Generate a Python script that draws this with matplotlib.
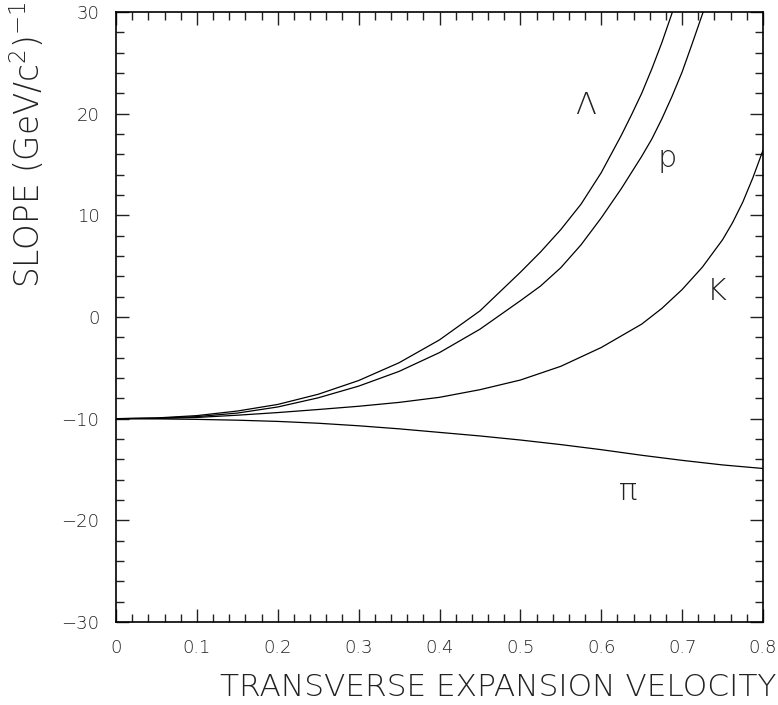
import numpy as np
from matplotlib import pyplot as plt
from matplotlib.ticker import MultipleLocator

# slope vs transverse expansion velocity
x_lam = [0.0, 0.05, 0.1, 0.15, 0.2, 0.25, 0.3, 0.35, 0.4, 0.45, 0.5, 0.525, 0.55, 0.575, 0.6, 0.625,
         0.6375, 0.65, 0.6625, 0.675, 0.688]
y_lam = [-10.0, -9.93, -9.7, -9.25, -8.6, -7.6, -6.25, -4.5, -2.25, 0.6, 4.4, 6.4, 8.6, 11.1, 14.2, 17.9,
         19.9, 22.0, 24.4, 27.0, 30.0]

x_p = [0.0, 0.05, 0.1, 0.15, 0.2, 0.25, 0.3, 0.35, 0.4, 0.45, 0.5, 0.525, 0.55, 0.575, 0.6, 0.625, 0.65,
       0.6625, 0.675, 0.6875, 0.7, 0.7125, 0.726]
y_p = [-10.0, -9.95, -9.8, -9.45, -8.85, -7.95, -6.8, -5.35, -3.5, -1.2, 1.6, 3.05, 4.85, 7.1, 9.75, 12.65,
       15.8, 17.5, 19.5, 21.7, 24.1, 26.9, 30.0]

x_k = [0.0, 0.05, 0.1, 0.15, 0.2, 0.25, 0.3, 0.35, 0.4, 0.45, 0.5, 0.55, 0.6, 0.65, 0.675, 0.7, 0.725,
       0.75, 0.7625, 0.775, 0.7875, 0.8]
y_k = [-10.0, -9.98, -9.88, -9.66, -9.4, -9.1, -8.78, -8.4, -7.9, -7.15, -6.2, -4.85, -3.0, -0.7, 0.85, 2.7,
       4.9, 7.6, 9.3, 11.3, 13.7, 16.4]

x_pi = [0.0, 0.05, 0.1, 0.15, 0.2, 0.25, 0.3, 0.35, 0.4, 0.45, 0.5, 0.55, 0.6, 0.65, 0.7, 0.75, 0.8]
y_pi = [-10.0, -10.02, -10.07, -10.15, -10.27, -10.45, -10.7, -11.0, -11.35, -11.7, -12.1, -12.55, -13.05,
        -13.6, -14.1, -14.55, -14.9]

labels = ["\u039b", "p", "K", "\u03c0"]
label_pos = [(0.58, 20.8), (0.681, 15.6), (0.743, 2.5), (0.633, -17.2)]

plt.rcParams.update({
    "font.family": "DejaVu Sans",
    "font.weight": "light",
    "mathtext.default": "regular",
    "text.color": "#222222",
    "xtick.color": "#222222",
    "ytick.color": "#222222",
})

fig = plt.figure(figsize=(7.78, 7.05), dpi=100)
ax = fig.add_axes([116 / 778, 1 - 622 / 705, 647 / 778, 610 / 705])

for xs, ys in [(x_lam, y_lam), (x_p, y_p), (x_k, y_k), (x_pi, y_pi)]:
    ax.plot(xs, ys, color="black", lw=0.9)

for lab, (lx, ly) in zip(labels, label_pos):
    ax.text(lx, ly, lab, fontsize=22, ha="center", va="center", fontweight="light")

ax.set_xlim(0, 0.8)
ax.set_ylim(-30, 30)
ax.xaxis.set_major_locator(MultipleLocator(0.1))
ax.xaxis.set_minor_locator(MultipleLocator(0.02))
ax.yaxis.set_major_locator(MultipleLocator(10))
ax.yaxis.set_minor_locator(MultipleLocator(2))
ax.xaxis.set_major_formatter(lambda v, pos: "0" if abs(v) < 1e-9 else f"{v:.1f}")

ax.tick_params(which="both", direction="in", top=True, right=True, labelsize=13, width=1.0)
ax.tick_params(which="major", length=9.4, pad=12)
ax.tick_params(which="minor", length=5.8)
for s in ax.spines.values():
    s.set_linewidth(1.2)

fig.text(776 / 778, 1 - 688 / 705, "TRANSVERSE EXPANSION VELOCITY", ha="right", va="center",
         fontsize=22.5, fontweight="light")
fig.text(28 / 778, 1 - 2 / 705, r"SLOPE (GeV/c$^2$)$^{-1}$", rotation=90, ha="center", va="top",
         fontsize=23.5, fontweight="light")

fig.savefig("out.png", dpi=100)
